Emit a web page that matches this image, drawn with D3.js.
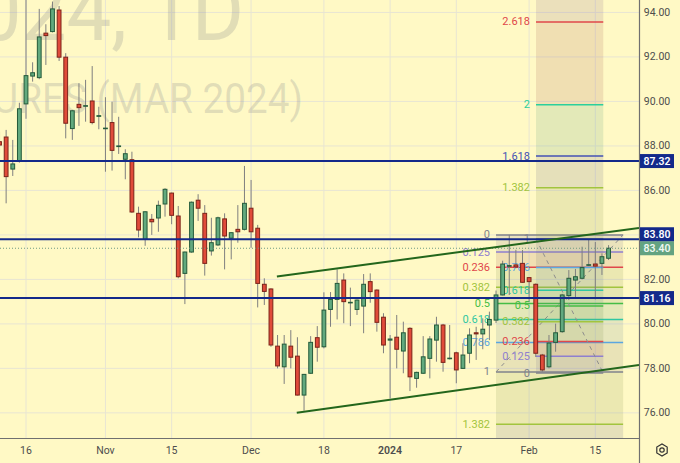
<!DOCTYPE html>
<html><head><meta charset="utf-8">
<script src="https://cdn.jsdelivr.net/npm/d3@7"></script>
<style>html,body{margin:0;padding:0;background:#fff9c5;} svg{display:block;}</style>
</head><body><svg id="c" width="680" height="463"></svg>
<script>
// ---------------- data ----------------
const opens  = [88.19,88.40,86.96,87.32,89.89,91.14,91.07,93.07,93.14,94.11,91.99,88.78,89.87,89.79,90.02,89.33,88.78,89.05,87.97,87.40,87.38,84.97,83.80,84.70,84.76,85.39,85.88,84.85,82.27,83.23,85.56,84.97,83.28,83.55,84.72,83.85,84.25,84.25,85.20,84.30,81.78,81.57,79.00,78.07,79.00,78.55,76.80,77.78,79.38,78.97,80.65,81.10,81.97,80.95,80.65,80.80,81.90,81.52,80.30,79.27,79.40,78.78,79.80,77.55,77.78,78.45,79.27,79.95,78.44,78.70,78.00,78.68,79.60,79.55,79.95,80.17,81.30,82.59,82.65,82.72,82.08,81.78,78.60,78.07,79.17,79.65,81.27,81.97,82.05,82.64,82.69,82.72,82.95];
const highs  = [88.64,88.72,88.27,89.94,94.80,91.76,94.16,93.47,94.49,94.29,92.17,89.62,90.82,90.97,91.59,89.76,90.19,89.99,89.31,87.85,87.74,85.27,85.06,84.94,85.54,86.10,85.90,85.30,83.25,85.50,85.83,85.34,84.77,84.82,84.97,84.12,85.34,87.10,86.47,84.45,82.05,81.60,79.50,79.50,79.72,79.40,77.75,79.45,79.90,81.42,81.43,82.45,82.27,81.63,81.10,82.24,82.27,81.55,80.48,79.50,80.40,80.10,79.85,77.85,79.45,79.45,80.32,80.00,79.95,78.75,79.13,79.80,79.87,80.25,80.55,81.50,82.84,84.00,83.33,83.32,82.10,81.82,78.65,79.50,80.01,81.35,82.42,82.47,83.47,83.77,83.68,83.17,83.54];
const lows   = [87.67,85.42,86.65,87.25,89.22,90.89,91.00,91.64,93.10,91.82,88.34,88.27,88.90,89.09,88.97,88.75,86.84,86.89,87.64,86.50,84.99,83.89,83.51,84.00,84.14,84.82,84.48,82.05,80.89,83.20,84.63,82.17,83.07,83.50,82.45,82.90,83.65,84.20,83.42,80.74,80.85,78.97,78.00,77.30,78.00,76.78,76.10,77.75,78.30,78.90,79.87,80.20,80.03,79.90,80.40,79.58,80.95,79.65,78.68,76.65,78.00,77.78,76.98,77.13,77.75,77.55,78.30,77.85,78.40,77.33,77.98,78.23,78.38,78.86,79.27,80.04,81.28,81.30,82.50,81.85,81.00,78.51,77.85,78.00,78.75,79.60,81.07,81.15,82.00,82.60,81.10,82.20,82.87];
const closes = [88.04,86.62,87.19,89.67,91.16,91.29,92.90,92.96,94.16,91.99,89.02,89.58,89.72,89.81,89.05,89.36,88.80,87.80,88.00,87.65,85.03,84.22,85.04,84.59,85.33,86.05,84.88,82.12,83.23,85.47,85.20,82.72,83.65,84.77,83.95,84.10,84.14,85.42,84.14,81.82,81.46,79.05,78.11,79.09,78.50,76.80,77.73,79.17,78.95,80.62,81.10,81.82,81.00,80.97,81.07,81.78,81.45,80.07,79.05,79.32,78.86,79.60,77.62,77.82,78.52,79.32,79.95,78.27,78.46,77.93,78.60,79.50,79.55,79.76,80.20,81.30,82.69,82.62,82.56,81.87,81.90,78.68,77.93,79.14,79.60,81.30,82.05,82.12,82.53,82.66,82.60,83.02,83.40];

const xTickIndex  = [4,16,26,38,49,59,69,80,90];
const xTickLabels = ["16","Nov","15","Dec","18","2024","17","Feb","15"];
const yTicks = [76,78,80,82,84,86,88,90,92,94];

const hLineValues = [87.32, 83.80, 81.16];
const lastPrice = 83.40;

const upperChannel = [[41.9, 82.13],[96.6, 84.31]];
const lowerChannel = [[44.9, 76.00],[96.6, 78.15]];

const fibLevels = [0,0.125,0.236,0.382,0.5,0.618,0.786,1,1.382,1.618,2,2.618,3.618];
const fibLabels = ["0","0.125","0.236","0.382","0.5","0.618","0.786","1","1.382","1.618","2","2.618","3.618"];
const fibColors = ["#80838c","#8f7fcf","#e0474a","#a2c43e","#45bd45","#2fc7a2","#5ba6e0","#80838c","#a2c43e","#4452b4","#2ccf9c","#e0474a","#9c5cc0"];
// [bar index, price] of the point at level 1 and at level 0
const fibAStart = [75.0, 77.84], fibAEnd = [94.2, 84.00];
const fibBStart = [81.04, 83.82], fibBEnd = [91.2, 77.79];

const watermarkLines = ["BRNH2024, 1D", "BRENT CRUDE FUTURES (MAR 2024)"];

// ---------------- layout ----------------
const W = 680, H = 463, PW = 639, PH = 438;
const font = "Roboto, 'Liberation Sans', Arial, sans-serif";
const svg = d3.select("#c");
const x = d3.scaleLinear().domain([0, 92]).range([-0.48, -0.48 + 6.62 * 92]);
const y = d3.scaleLinear().domain([74.87, 94.56]).range([PH, 0]);

svg.append("rect").attr("width", W).attr("height", H).attr("fill", "#fff9c5");
svg.append("defs").append("clipPath").attr("id", "pc")
  .append("rect").attr("x", 0).attr("y", 0).attr("width", PW).attr("height", PH);
const plot = svg.append("g").attr("clip-path", "url(#pc)");

// grid
const gridC = "#e8e5d3";
plot.selectAll(".gy").data(yTicks).join("line")
  .attr("x1", 0).attr("x2", PW).attr("y1", d => y(d)).attr("y2", d => y(d))
  .attr("stroke", gridC).attr("stroke-width", 1);
plot.selectAll(".gx").data(xTickIndex).join("line")
  .attr("x1", d => x(d)).attr("x2", d => x(d)).attr("y1", 0).attr("y2", PH)
  .attr("stroke", gridC).attr("stroke-width", 1);

// watermark
const wm = plot.append("g").attr("fill", "rgb(120,123,134)").attr("fill-opacity", 0.22)
  .attr("font-family", font);
wm.append("text").attr("transform", "translate(244,40) scale(0.95,1)").attr("text-anchor", "end")
  .attr("font-size", 84).text(watermarkLines[0]);
wm.append("text").attr("transform", "translate(303,113) scale(0.9,1)").attr("text-anchor", "end")
  .attr("font-size", 43).text(watermarkLines[1]);

// fib tools
function drawFib(start, end) {
  const g = plot.append("g");
  const [i1, p1] = start, [i2, p2] = end;
  const xa = x(Math.min(i1, i2)), xb = x(Math.max(i1, i2));
  const lv = L => p2 + (p1 - p2) * L;
  for (let k = 0; k < fibLevels.length - 1; k++) {
    const ya = y(lv(fibLevels[k])), yb = y(lv(fibLevels[k + 1]));
    const top = Math.min(ya, yb), h = Math.abs(yb - ya);
    g.append("rect").attr("x", xa).attr("width", xb - xa).attr("y", top).attr("height", h)
      .attr("fill", "#7d7f70").attr("fill-opacity", 0.11);
    g.append("rect").attr("x", xa).attr("width", xb - xa).attr("y", top).attr("height", h)
      .attr("fill", fibColors[k + 1]).attr("fill-opacity", 0.07);
  }
  const vis = fibLevels.map((d, k) => k).filter(k => { const yy = y(lv(fibLevels[k])); return yy > 0 && yy < PH; });
  g.selectAll(".lvl").data(vis).join("line")
    .attr("x1", xa).attr("x2", xb)
    .attr("y1", k => y(lv(fibLevels[k]))).attr("y2", k => y(lv(fibLevels[k])))
    .attr("stroke", k => fibColors[k]).attr("stroke-width", 1.5);
  g.selectAll(".lab").data(vis).join("text")
    .attr("x", xa - 6).attr("y", k => y(lv(fibLevels[k])))
    .attr("text-anchor", "end").attr("dominant-baseline", "central")
    .attr("font-family", font).attr("font-size", 11)
    .attr("fill", k => fibColors[k]).text(k => fibLabels[k]);
  g.append("line").attr("x1", x(i1)).attr("y1", y(p1)).attr("x2", x(i2)).attr("y2", y(p2))
    .attr("stroke", "#8d8d8d").attr("stroke-width", 1).attr("stroke-dasharray", "4,4");
}
drawFib(fibAStart, fibAEnd);
drawFib(fibBStart, fibBEnd);

// candles
const idx = d3.range(opens.length);
plot.selectAll(".wick").data(idx).join("line")
  .attr("x1", i => x(i)).attr("x2", i => x(i))
  .attr("y1", i => y(highs[i])).attr("y2", i => y(lows[i]))
  .attr("stroke", "#7f7f7f").attr("stroke-width", 1);
plot.selectAll(".body").data(idx).join("rect")
  .attr("x", i => x(i) - 1.9).attr("width", 3.8)
  .attr("y", i => y(Math.max(opens[i], closes[i])))
  .attr("height", i => Math.max(0.6, Math.abs(y(opens[i]) - y(closes[i]))))
  .attr("fill", i => closes[i] >= opens[i] ? "#62a97e" : "#e04b3a")
  .attr("stroke", i => closes[i] >= opens[i] ? "#245a3a" : "#7c2318")
  .attr("stroke-width", 1);

// horizontal lines
plot.append("line").attr("x1", 0).attr("x2", PW).attr("y1", y(lastPrice)).attr("y2", y(lastPrice))
  .attr("stroke", "#6f9a82").attr("stroke-width", 1).attr("stroke-dasharray", "1,2");
plot.selectAll(".hl").data(hLineValues).join("line")
  .attr("x1", 0).attr("x2", PW).attr("y1", d => y(d)).attr("y2", d => y(d))
  .attr("stroke", "#13298a").attr("stroke-width", 2);

// channel
const ln = d3.line().x(d => x(d[0])).y(d => y(d[1]));
[upperChannel, lowerChannel].forEach(c => {
  plot.append("path").attr("d", ln(c)).attr("fill", "none")
    .attr("stroke", "#23661c").attr("stroke-width", 2);
});

// axes
svg.append("line").attr("x1", 0).attr("x2", PW).attr("y1", PH + 0.5).attr("y2", PH + 0.5)
  .attr("stroke", "#707070").attr("stroke-width", 1.2);
svg.append("line").attr("x1", PW + 0.5).attr("x2", PW + 0.5).attr("y1", 0).attr("y2", H)
  .attr("stroke", "#707070").attr("stroke-width", 1.2);

// price labels with collision
const boxes = hLineValues.map(v => ({v, y: y(v), fill: "#13298a", tc: "#ffffff"}))
  .concat([{v: lastPrice, y: y(lastPrice), fill: "#63a381", tc: "#eef8f1"}]);
boxes.sort((a, b) => b.y - a.y);
for (let k = 1; k < boxes.length; k++) {
  if (boxes[k - 1].y - boxes[k].y < 14) boxes[k].y = boxes[k - 1].y - 14;
}
const ya = svg.append("g").attr("font-family", font).attr("font-size", 10.5);
ya.selectAll(".yt").data(yTicks.filter(t => boxes.every(b => Math.abs(b.y - y(t)) > 11))).join("text")
  .attr("x", 657).attr("y", d => y(d)).attr("text-anchor", "middle")
  .attr("dominant-baseline", "central").attr("fill", "#4d4d4d").text(d => d.toFixed(2));
const bg = svg.append("g").attr("font-family", font).attr("font-size", 10.5).attr("font-weight", 600);
boxes.forEach(b => {
  bg.append("rect").attr("x", 640).attr("y", b.y - 7).attr("width", 34).attr("height", 14).attr("fill", b.fill);
  bg.append("text").attr("x", 657).attr("y", b.y).attr("text-anchor", "middle")
    .attr("dominant-baseline", "central").attr("fill", b.tc).text(b.v.toFixed(2));
});

// x labels
svg.append("g").attr("font-family", font).attr("font-size", 10.5)
  .selectAll("text").data(xTickIndex).join("text")
  .attr("x", d => x(d)).attr("y", 450).attr("text-anchor", "middle")
  .attr("dominant-baseline", "central")
  .attr("font-weight", (d, k) => xTickLabels[k] === "2024" ? 600 : 400)
  .attr("fill", "#4d4d4d").text((d, k) => xTickLabels[k]);

// gear icon
const gc = [662, 450], r = 6;
const hex = d3.range(6).map(k => [gc[0] + r * Math.cos(Math.PI / 3 * k + Math.PI / 6), gc[1] + r * Math.sin(Math.PI / 3 * k + Math.PI / 6)]);
svg.append("path").attr("d", d3.line()(hex) + "Z").attr("fill", "none").attr("stroke", "#333").attr("stroke-width", 1.2);
svg.append("circle").attr("cx", gc[0]).attr("cy", gc[1]).attr("r", 2.2).attr("fill", "none").attr("stroke", "#333").attr("stroke-width", 1.2);
</script></body></html>
